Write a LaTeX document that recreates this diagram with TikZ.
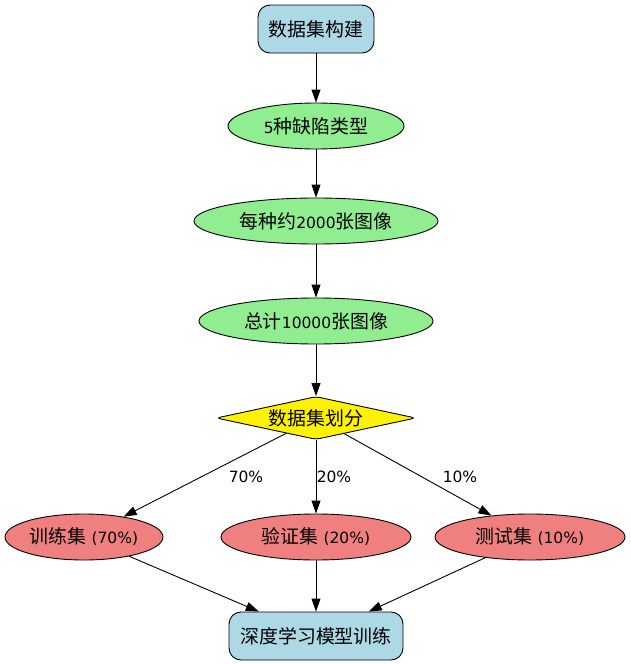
\documentclass[tikz,border=0pt]{standalone}
\usepackage{fontspec}
\setmainfont{DejaVu Sans}
\newfontfamily\cjk[Scale=1.22]{Noto Sans CJK SC}
\usetikzlibrary{shapes.geometric,arrows.meta}
\definecolor{boxblue}{RGB}{173,216,230}
\definecolor{stepgreen}{RGB}{144,238,144}
\definecolor{splitred}{RGB}{240,128,128}

\begin{document}
\begin{tikzpicture}[x=1pt,y=-1pt,
	every node/.style={font=\fontsize{15.5}{18}\selectfont},
	endbox/.style={draw, line width=0.9pt, fill=boxblue, rounded corners=12pt, minimum height=48pt, inner sep=0pt},
	stepell/.style={draw, line width=0.9pt, ellipse, fill=stepgreen, minimum height=46pt, inner sep=0pt},
	partell/.style={draw, line width=0.9pt, ellipse, fill=splitred, minimum height=46pt, inner sep=0pt},
	splitdia/.style={draw, line width=0.9pt, diamond, aspect=6, fill=yellow, rounded corners=4pt, minimum width=196pt, minimum height=43pt, inner sep=0pt},
	flow/.style={-{Triangle[length=13pt,width=9pt]}, line width=0.9pt},
	pct/.style={font=\fontsize{15.5}{18}\selectfont}]
	\useasboundingbox (0,0) rectangle (631,664);

	\node[endbox, minimum width=116pt] (build) at (316,29) {\cjk 数据集构建};
	\node[stepell, minimum width=176pt] (types) at (316,126) {5{\cjk 种缺陷类型}};
	\node[stepell, minimum width=244pt] (each) at (316,221) {{\cjk 每种约}2000{\cjk 张图像}};
	\node[stepell, minimum width=234pt] (total) at (316,321) {{\cjk 总计}10000{\cjk 张图像}};
	\node[splitdia] (split) at (316,418) {\cjk 数据集划分};

	\node[partell, minimum width=158pt] (train) at (84,537) {{\cjk 训练集} (70\%)};
	\node[partell, minimum width=190pt] (valid) at (316,537) {{\cjk 验证集} (20\%)};
	\node[partell, minimum width=190pt] (test) at (530,537) {{\cjk 测试集} (10\%)};
	\node[endbox, minimum width=174pt] (deep) at (316,636) {\cjk 深度学习模型训练};

	\draw[flow] (build) -- (types);
	\draw[flow] (types) -- (each);
	\draw[flow] (each) -- (total);
	\draw[flow] (total) -- (split);

	\draw[flow] (split) -- (train);
	\node[pct] (p70) at (246,477) {70\%};
	\draw[flow] (split) -- (valid);
	\node[pct] (p20) at (334,477) {20\%};
	\draw[flow] (split) -- (test);
	\node[pct] (p10) at (460,477) {10\%};

	\draw[flow] (train) -- (deep);
	\draw[flow] (valid) -- (deep);
	\draw[flow] (test) -- (deep);
\end{tikzpicture}
\end{document}
